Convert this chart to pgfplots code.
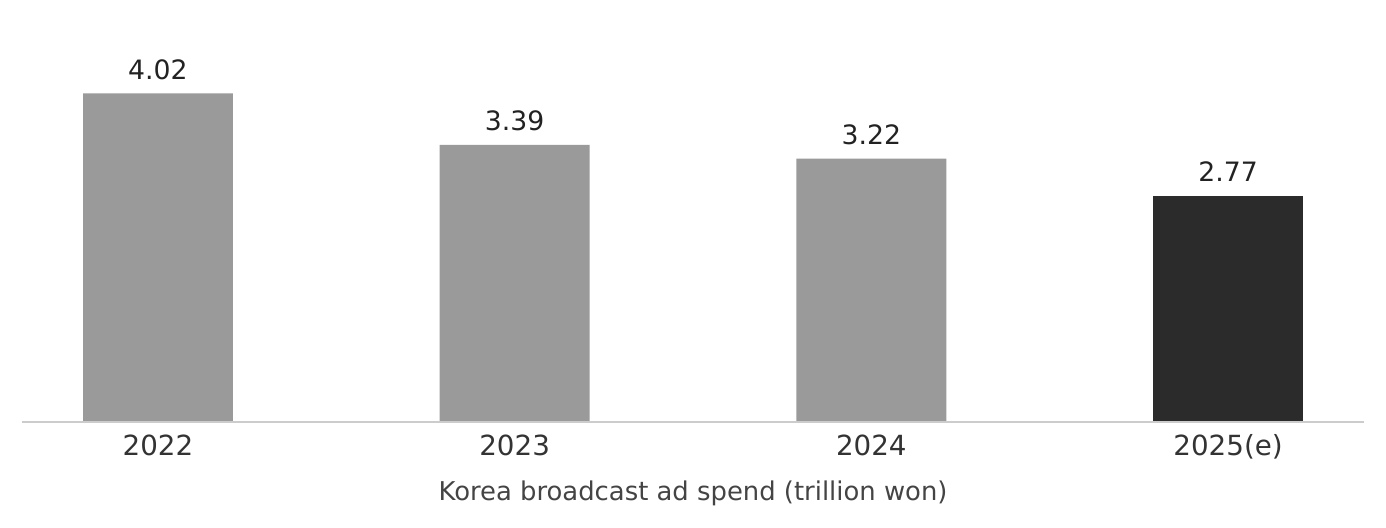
\documentclass[border=0pt]{standalone}
\usepackage{pgfplots}
\pgfplotsset{compat=1.18}
\usepackage{fontspec}
\setmainfont{DejaVu Sans}
\definecolor{bargray}{HTML}{9A9A9A}
\definecolor{bardark}{HTML}{2B2B2B}
\definecolor{axisgray}{HTML}{CCCCCC}
\definecolor{valtext}{HTML}{222222}
\definecolor{ticktext}{HTML}{333333}
\definecolor{labtext}{HTML}{444444}
\begin{document}
\begin{tikzpicture}[x=1pt,y=1pt]
\begin{axis}[
  scale only axis,
  width=1006.5pt, height=316.5pt,
  xmin=-0.381, xmax=3.381,
  ymin=0, ymax=5.161,
  axis lines=none,
  clip=false,
  ybar, bar width=0.42,
  bar shift=0pt,
  xtick=\empty, ytick=\empty,
  /pgf/number format/assume math mode=true,
  nodes near coords,
  nodes near coords style={font=\fontsize{20}{24}\selectfont, text=valtext, anchor=base, inner sep=0pt, yshift=10.5pt,
    /pgf/number format/.cd, fixed, fixed zerofill, precision=2},
]
\addplot[draw=none, fill=bargray] coordinates {(0,4.02) (1,3.39) (2,3.22)};
\addplot[draw=none, fill=bardark] coordinates {(3,2.77)};
\draw[axisgray, line width=1.5pt] (axis cs:-0.381,0) -- (axis cs:3.381,0);
\foreach \i/\t in {0/2022,1/2023,2/2024,3/2025(e)} {
  \edef\tmp{\noexpand\node[anchor=base, inner sep=0pt, text=ticktext, font=\noexpand\fontsize{20.8}{25}\noexpand\selectfont, yshift=-25.5pt] at (axis cs:\i,0) {\t};}
  \tmp
}
\node[anchor=base, inner sep=0pt, text=labtext, font=\fontsize{19.4}{23}\selectfont, yshift=-59pt] at (axis description cs:0.5,0) {Korea broadcast ad spend (trillion won)};
\path[use as bounding box] (axis description cs:0,0) ++(-16.5pt,-79.5pt) rectangle (axis description cs:1,1) ++(16.5pt,0pt);
\end{axis}
\end{tikzpicture}
\end{document}
